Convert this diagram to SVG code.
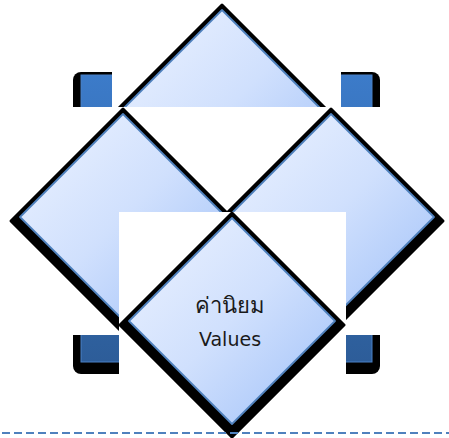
<svg xmlns="http://www.w3.org/2000/svg" xmlns:xlink="http://www.w3.org/1999/xlink" width="449" height="438" viewBox="0 0 449 438">
  <defs>
    <linearGradient id="gFill" x1="0" y1="0" x2="1" y2="1">
      <stop offset="0" stop-color="#edf3ff"/>
      <stop offset="0.5" stop-color="#d0e0fd"/>
      <stop offset="1" stop-color="#9fc0f8"/>
    </linearGradient>
    <linearGradient id="gSq" x1="0" y1="0" x2="0" y2="1">
      <stop offset="0" stop-color="#3c7bc9"/>
      <stop offset="1" stop-color="#2d5d99"/>
    </linearGradient>
    <path id="dShadow" d="M0,-112 L112,0 L0,112 L-112,0 Z" transform="translate(0,4)"/>
    <path id="dFace" d="M0,-103 L103,0 L0,103 L-103,0 Z"/>
    <g id="diamond">
      <use xlink:href="#dShadow" class="shadow"/>
      <use xlink:href="#dFace" class="face"/>
    </g>
  </defs>
  <style>
    .shadow { fill: #000; stroke: #000; stroke-width: 3; stroke-linejoin: round; }
    .face { fill: url(#gFill); stroke: #4f81bd; stroke-width: 1.8; stroke-linejoin: round; }
    .cover { fill: #fff; }
    .label { font-family: "Tahoma", "DejaVu Sans", "Noto Sans", sans-serif; font-size: 19px; fill: #1a1a1a; text-anchor: middle; }
    .thai { font-size: 22px; }
    .sep { stroke: #4f81bd; stroke-width: 2; stroke-dasharray: 8 4; fill: none; }
  </style>

  <g id="background-square">
    <rect x="73" y="72" width="307" height="302" rx="8" fill="#000"/>
    <rect x="81" y="75" width="291" height="287" fill="url(#gSq)" stroke="#4a80c4" stroke-width="1"/>
  </g>
  <rect class="cover" x="112" y="0" width="229" height="107"/>

  <g id="node-top">
    <use xlink:href="#diamond" transform="translate(222,113)"/>
  </g>
  <rect class="cover" x="0" y="107" width="449" height="228"/>

  <g id="node-left">
    <use xlink:href="#diamond" transform="translate(123,217)"/>
  </g>
  <g id="node-right">
    <use xlink:href="#diamond" transform="translate(331,217)"/>
  </g>
  <rect class="cover" x="119" y="212" width="227" height="162"/>

  <g id="node-values">
    <use xlink:href="#diamond" transform="translate(232,321)"/>
    <text class="label thai" x="230" y="313">ค่านิยม</text>
    <text class="label" x="230" y="346">Values</text>
  </g>

  <g id="connectors">
    <line class="sep" x1="2" y1="433" x2="449" y2="433"/>
  </g>
</svg>
